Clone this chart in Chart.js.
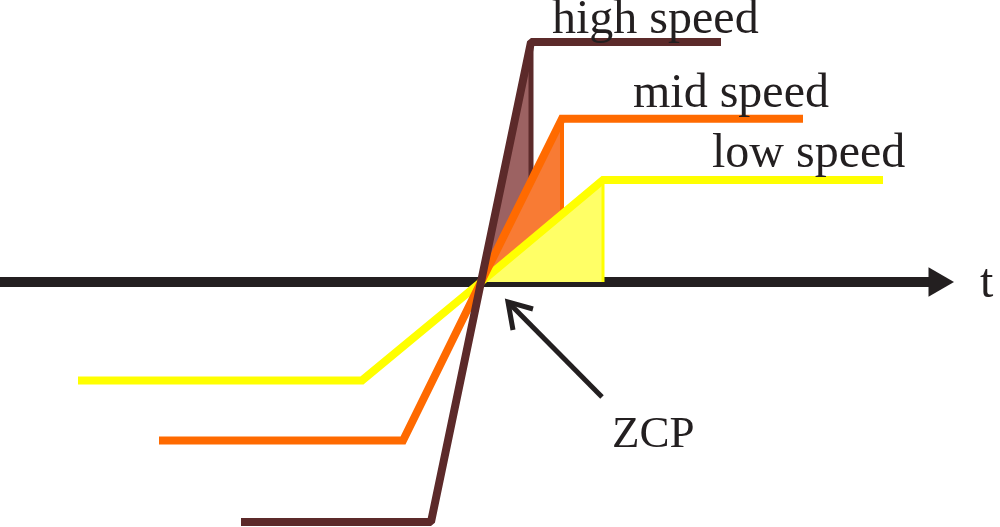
<!DOCTYPE html>
<html>
<head>
<meta charset="utf-8">
<script src="https://cdn.jsdelivr.net/npm/chart.js@4/dist/chart.umd.min.js"></script>
<style>
  html, body { margin: 0; padding: 0; background: #ffffff; }
  #wrap { width: 1000px; height: 527px; position: relative; }
</style>
</head>
<body>
<div id="wrap"><canvas id="c" width="1000" height="527"></canvas></div>
<script>
// ---- Data (t: time units, ZCP at t = 0; v: signal level, 0 on the t axis) ----
const highT = [-24, -5, 0, 5, 24];
const highV = [-10, -10, 0, 10, 10];
const midT  = [-32.2, -7.8, 0, 8.1, 32.2];
const midV  = [-6.6, -6.6, 0, 6.8, 6.8];
const lowT  = [-40.3, -11.9, 0, 12.2, 40.2];
const lowV  = [-4.1, -4.1, 0, 4.25, 4.25];

// shaded regions between ZCP and the corner of each ramp
const highFillT = [0, 5, 5];
const highFillV = [0, 10, 0];
const midFillT  = [0, 8.1, 8.1];
const midFillV  = [0, 6.8, 0];
const lowFillT  = [0, 12.2, 12.2];
const lowFillV  = [0, 4.25, 0];

// t axis with arrow
const axisT = [-48.1, 44.8];
const axisV = [0, 0];
const arrowT = [45.6];
const arrowV = [0];

// ZCP pointer arrow
const zcpShaftT = [12.1, 2.7];
const zcpShaftV = [-4.79, -0.83];
const zcpHeadT  = [5.2, 2.7, 3.2];
const zcpHeadV  = [-1.125, -0.83, -2.0];

// text labels
const labelText = ['high speed', 'mid speed', 'low speed', 'ZCP', 't'];
const labelT    = [7.1, 15.2, 23.1, 13.1, 49.9];
const labelV    = [10.375, 7.29, 4.79, -6.875, -0.625];

const pts = (ts, vs) => ts.map((t, i) => ({ x: t, y: vs[i] }));

const C = {
  high: '#5c2a2a', highFill: '#9c6262',
  mid: '#ff6a00', midFill: '#f87b34',
  low: '#ffff00', lowFill: '#ffff66',
  axis: '#231f20', text: '#231f20'
};

const lineDs = (data, color, width, extra) => Object.assign({
  data, borderColor: color, borderWidth: width, showLine: true,
  pointRadius: 0, fill: false, borderJoinStyle: 'miter', borderCapStyle: 'butt', tension: 0
}, extra || {});

const labelPlugin = {
  id: 'labels',
  afterDatasetsDraw(chart) {
    const { ctx, scales } = chart;
    ctx.save();
    ctx.fillStyle = C.text;
    ctx.textBaseline = 'alphabetic';
    ctx.textAlign = 'left';
    labelText.forEach((s, i) => {
      ctx.font = (s === 'ZCP' ? '45px' : '48px') + ' "Liberation Serif", "DejaVu Serif", serif';
      ctx.fillText(s, scales.x.getPixelForValue(labelT[i]), scales.y.getPixelForValue(labelV[i]));
    });
    ctx.restore();
  }
};

new Chart(document.getElementById('c'), {
  type: 'scatter',
  data: {
    datasets: [
      // topmost first
      lineDs(pts(zcpHeadT, zcpHeadV), C.axis, 5),
      lineDs(pts(zcpShaftT, zcpShaftV), C.axis, 5),
      lineDs(pts(highT, highV), C.high, 8, { borderJoinStyle: 'bevel' }),
      lineDs(pts(midT, midV), C.mid, 8),
      lineDs(pts(lowT, lowV), C.low, 8),
      lineDs(pts(lowFillT, lowFillV), C.low, 3, { fill: 'origin', backgroundColor: C.lowFill, borderJoinStyle: 'bevel' }),
      lineDs(pts(midFillT, midFillV), C.mid, 4, { fill: 'origin', backgroundColor: C.midFill, borderJoinStyle: 'bevel' }),
      lineDs(pts(highFillT, highFillV), C.high, 5, { fill: 'origin', backgroundColor: C.highFill, borderJoinStyle: 'bevel' }),
      {
        data: pts(arrowT, arrowV), showLine: false, pointStyle: 'triangle', rotation: 90,
        pointRadius: 17, pointBackgroundColor: C.axis, pointBorderColor: C.axis, pointBorderWidth: 0
      },
      lineDs(pts(axisT, axisV), C.axis, 10)
    ]
  },
  options: {
    responsive: false,
    animation: false,
    layout: { padding: 0, autoPadding: false },
    plugins: { legend: { display: false }, tooltip: { enabled: false }, filler: { propagate: false } },
    events: [],
    scales: {
      x: { type: 'linear', min: -48.1, max: 51.9, display: false },
      y: { type: 'linear', min: -10.208, max: 11.75, display: false }
    }
  },
  plugins: [labelPlugin]
});
</script>
</body>
</html>
